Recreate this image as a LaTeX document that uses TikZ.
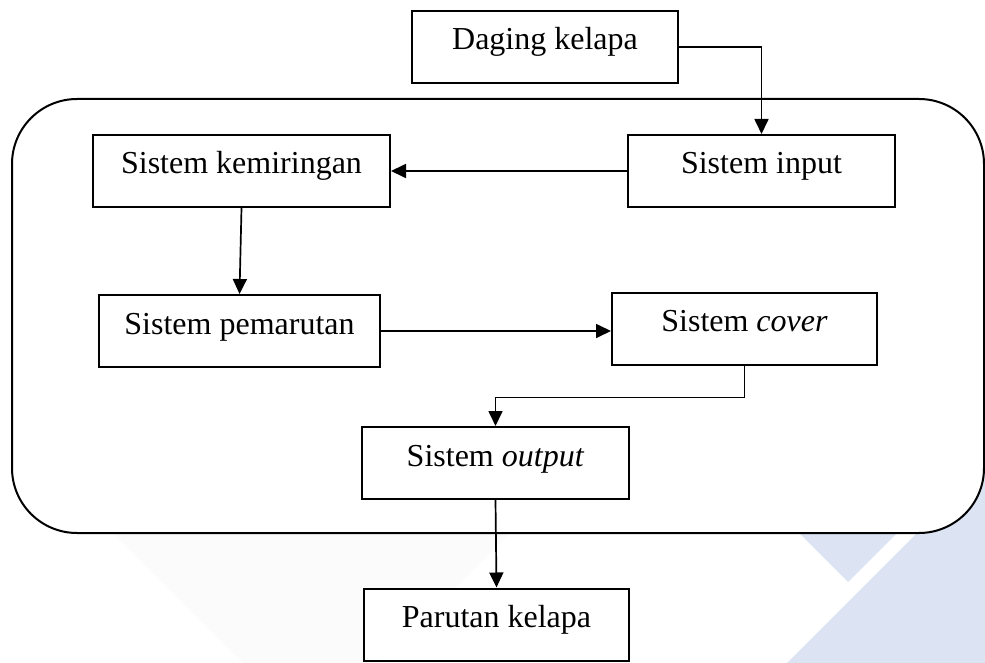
\documentclass[tikz,border=0pt]{standalone}
\usepackage{fontspec}
\setmainfont{Liberation Serif}
\usetikzlibrary{arrows.meta}
\definecolor{wmblue}{RGB}{220,227,242}
\definecolor{wmgray}{RGB}{251,251,251}

\begin{document}
\begin{tikzpicture}[x=1pt, y=-1pt,
        blok/.style={draw, line width=2pt, fill=white, inner sep=0pt,
            text height=39pt, text depth=33pt,
            font=\fontsize{32pt}{38pt}\selectfont},
        panah/.style={line width=1.7pt, -{Triangle[length=15pt,width=14pt]}}]

            \useasboundingbox (0,0) rectangle (985,663);

            \fill[wmgray] (80,500) -- (243,663) -- (380,663) -- (543,500) -- cycle;
            \fill[wmblue] (716,450) -- (848,582) -- (980,450) -- cycle;
            \fill[wmblue] (787,663) -- (985,465) -- (985,663) -- cycle;

            \draw[line width=2pt, fill=white, rounded corners=65pt] (12,99) rectangle (984,533);

            \node (daging) [blok, minimum width=266pt] at (545,47) {Daging kelapa};
            \node (input) [blok, minimum width=267pt] at (761.5,171) {Sistem input};
            \node (kemiringan) [blok, minimum width=297pt] at (241.5,171) {Sistem kemiringan};
            \node (pemarutan) [blok, minimum width=281pt] at (239.5,331) {Sistem pemarutan};
            \node (cover) [blok, minimum width=265pt] at (744.5,328.5) {Sistem \textit{cover}};
            \node (output) [blok, minimum width=267pt] at (495.5,463) {Sistem \textit{output}};
            \node (parutan) [blok, minimum width=265pt] at (496.5,624.5) {Parutan kelapa};

            \draw[panah] (daging.east) -| (input.north);
            \draw[panah] (input.west) -- (kemiringan.east);
            \draw[panah] (kemiringan.south) -- (pemarutan.north);
            \draw[panah] (pemarutan.east) -- (pemarutan.east -| cover.west);
            \draw[panah] (cover.south) -- ++(0,32) -| (output.north);
            \draw[panah] (output.south) -- (parutan.north);

        \end{tikzpicture}
\end{document}
